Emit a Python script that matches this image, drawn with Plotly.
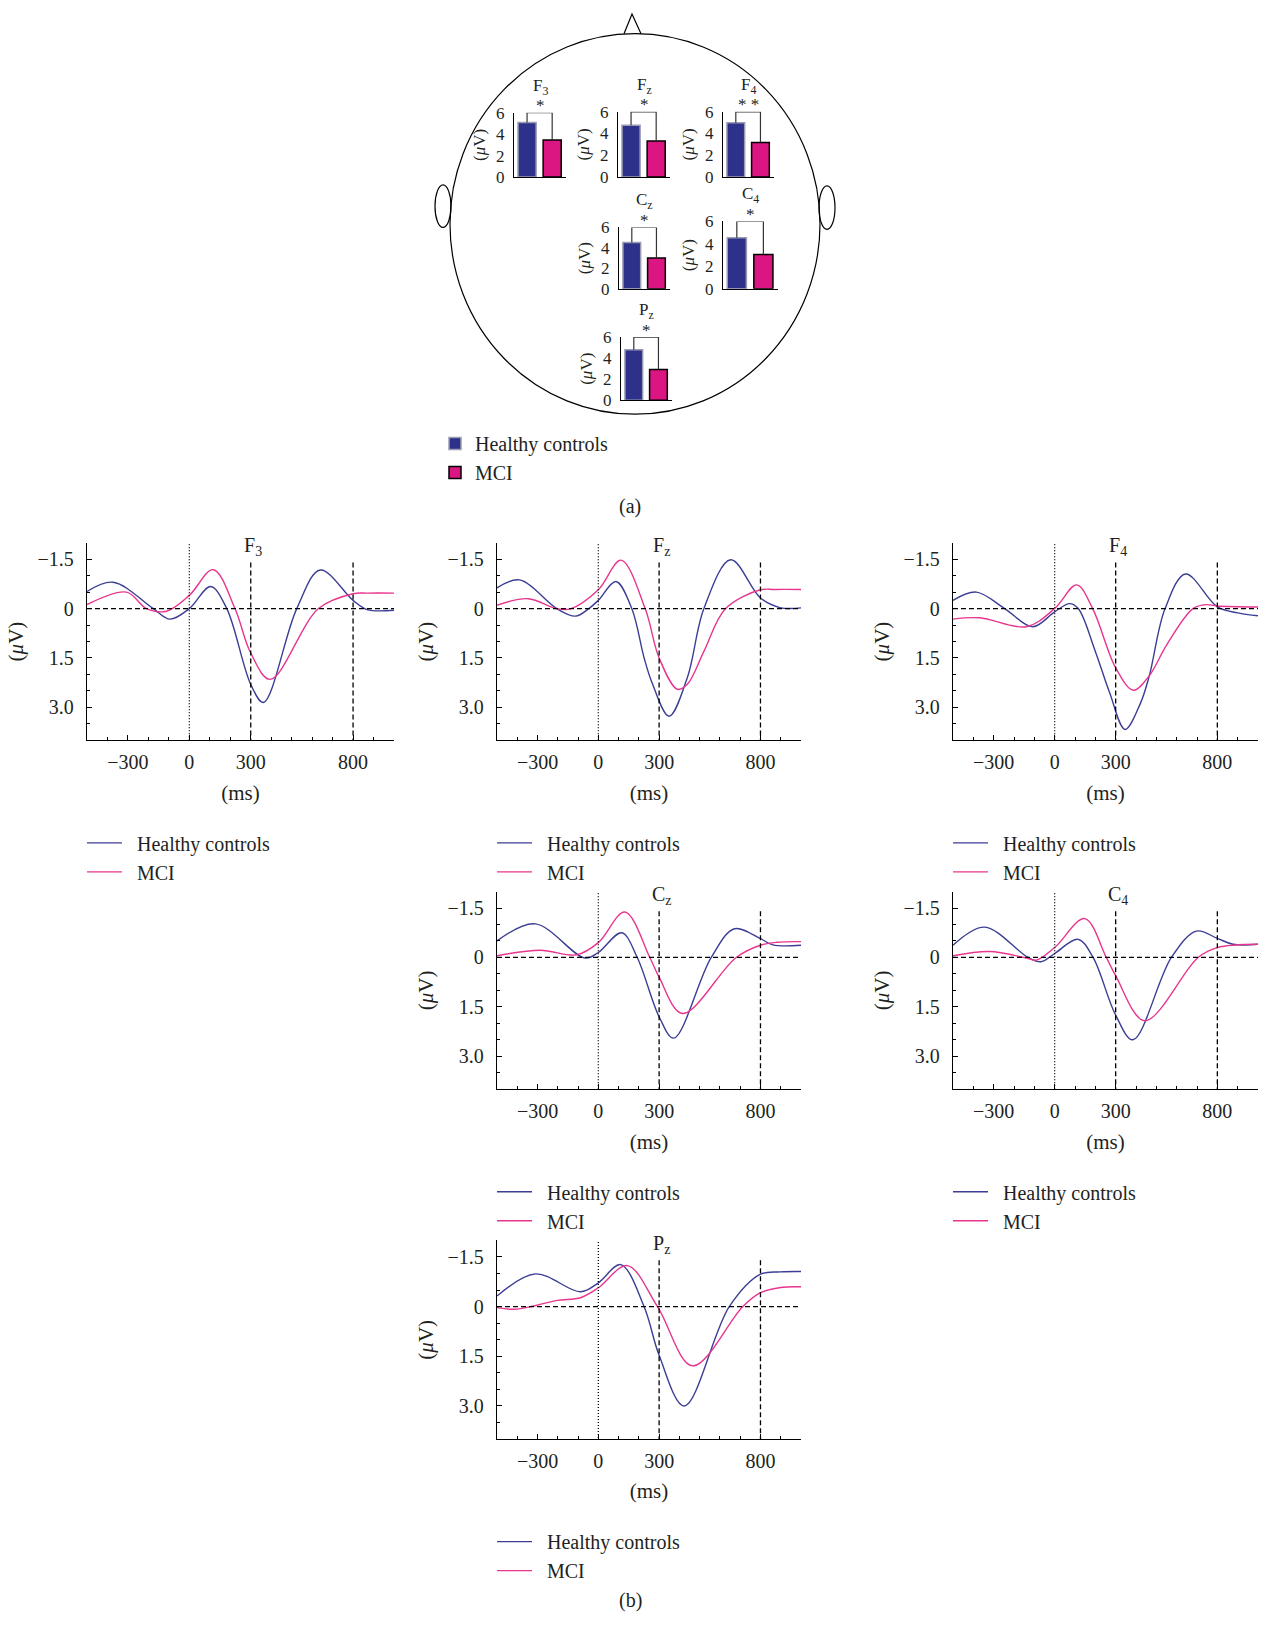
import plotly.graph_objects as go

W, H = 1269, 1625
FONT = "Liberation Serif"
INK = "#231f20"
HC_BAR, MCI_BAR = "#2e318a", "#db1682"
HC_LINE, MCI_LINE = "#3b3e94", "#e8358d"

ELECTRODES = ["F<sub>3</sub>", "F<sub>z</sub>", "F<sub>4</sub>",
              "C<sub>z</sub>", "C<sub>4</sub>", "P<sub>z</sub>"]
GROUPS = ["Healthy controls", "MCI"]
SIGNIF = ["*", "*", "* *", "*", "*", "*"]

# mean amplitude in the head-map insets (uV)
HC_AMP = [5.1, 4.77, 5.0, 4.52, 4.55, 4.8]
MCI_AMP = [3.45, 3.32, 3.17, 3.0, 3.05, 2.92]

# grand-average ERPs as (ms, uV) points
F3_HC = [(-500, -0.52), (-372, -0.80), (-176, 0.0), (-95, 0.32), (0, 0.0), (104, -0.67),
         (183, 0.0), (300, 2.3), (362, 2.85), (525, 0.0), (640, -1.17), (800, -0.25),
         (868, 0.03), (1000, 0.05)]
F3_MCI = [(-500, -0.12), (-307, -0.50), (-209, 0.0), (-111, 0.08), (0, -0.40), (117, -1.18),
          (223, 0.0), (300, 1.35), (395, 2.15), (631, 0.0), (800, -0.45), (870, -0.47),
          (1000, -0.47)]
FZ_HC = [(-500, -0.63), (-388, -0.87), (-205, 0.0), (-113, 0.23), (-47, 0.0), (0, -0.25),
         (87, -0.82), (165, 0.0), (226, 1.5), (265, 2.25), (349, 3.27), (439, 2.1),
         (521, 0.0), (653, -1.48), (800, -0.32), (895, -0.03), (1000, -0.02)]
FZ_MCI = [(-500, -0.10), (-347, -0.30), (-205, 0.0), (-138, 0.01), (0, -0.57), (112, -1.47),
          (231, 0.0), (300, 1.5), (390, 2.45), (439, 2.3), (521, 1.3), (628, 0.0),
          (800, -0.57), (870, -0.58), (1000, -0.58)]
F4_HC = [(-500, -0.25), (-385, -0.50), (-246, 0.0), (-107, 0.55), (0, 0.10), (74, -0.15),
         (116, 0.0), (200, 1.3), (270, 2.55), (346, 3.67), (420, 2.9), (465, 2.05),
         (543, 0.0), (644, -1.05), (800, -0.05), (900, 0.13), (1000, 0.22)]
F4_MCI = [(-500, 0.32), (-369, 0.28), (-139, 0.55), (0, 0.0), (108, -0.72), (187, 0.0),
          (300, 1.8), (387, 2.48), (464, 2.05), (551, 1.1), (680, 0.0),
          (745, -0.12), (800, -0.08), (1000, -0.05)]
CZ_HC = [(-500, -0.50), (-311, -1.02), (-66, 0.02), (0, -0.15), (115, -0.75), (192, 0.0),
         (300, 1.8), (372, 2.45), (557, 0.0), (672, -0.87), (800, -0.57), (861, -0.38),
         (1000, -0.37)]
CZ_MCI = [(-500, -0.05), (-287, -0.22), (-107, -0.08), (0, -0.45), (131, -1.38), (254, 0.0),
          (300, 0.6), (415, 1.7), (680, 0.0), (800, -0.37), (880, -0.46), (1000, -0.48)]
C4_HC = [(-500, -0.37), (-344, -0.92), (-131, 0.0), (-66, 0.13), (0, -0.12), (115, -0.55),
         (189, 0.0), (300, 1.75), (385, 2.5), (574, 0.0), (697, -0.80), (800, -0.58),
         (877, -0.40), (1000, -0.40)]
C4_MCI = [(-500, -0.05), (-320, -0.18), (-150, 0.0), (-90, 0.08), (0, -0.30), (148, -1.18),
          (254, 0.0), (300, 0.55), (443, 1.92), (705, 0.0), (800, -0.30), (1000, -0.40)]
PZ_HC = [(-500, -0.32), (-310, -0.99), (-88, -0.45), (0, -0.72), (110, -1.27), (226, 0.0),
         (300, 1.47), (424, 3.0), (646, 0.0), (800, -0.98), (900, -1.05), (1000, -1.06)]
PZ_MCI = [(-500, 0.03), (-416, 0.08), (-318, -0.02), (-203, -0.19), (-88, -0.27), (0, -0.57),
          (143, -1.24), (292, 0.0), (465, 1.79), (712, 0.0), (800, -0.42), (900, -0.58),
          (1000, -0.60)]
WAVES = [(F3_HC, F3_MCI), (FZ_HC, FZ_MCI), (F4_HC, F4_MCI),
         (CZ_HC, CZ_MCI), (C4_HC, C4_MCI), (PZ_HC, PZ_MCI)]

X_TICKS = [-300, 0, 300, 800]
Y_TICKS = [-1.5, 0, 1.5, 3.0]
Y_TICKTEXT = ["\u22121.5", "0", "1.5", "3.0"]
WINDOW_MS = [300, 800]


def px(x):
    return x / W


def py(y):
    return 1 - y / H


def ax_id(n):
    s = "" if n == 1 else str(n)
    return "x" + s, "y" + s, "xaxis" + s, "yaxis" + s


# pixel boxes: inset bars (x0, x1, y at 6 uV, y at 0 uV), ERP panels (x0, x1, top, bottom)
BAR_BOX = [(514, 566, 105, 170), (618, 670, 104, 170), (723, 774, 104, 170),
           (619, 670, 221, 283), (723, 778, 215, 283), (621, 672, 332, 396)]
COLS = [(87, 394), (497, 801), (953, 1258)]
ROWS = [(540, 740), (893, 1093), (1246, 1447)]
PANEL_AT = [(0, 0), (0, 1), (0, 2), (1, 1), (1, 2), (2, 1)]

fig = go.Figure()
layout = dict(
    width=W, height=H, margin=dict(l=0, r=0, t=0, b=0),
    paper_bgcolor="white", plot_bgcolor="rgba(0,0,0,0)",
    font=dict(family=FONT, color=INK, size=20),
    shapes=[], annotations=[],
)

# ---- (a) head map with bar insets ----
for i in range(6):
    xa, ya, xkey, ykey = ax_id(i + 1)
    x0, x1, ytop, ybot = BAR_BOX[i]
    fig.add_trace(go.Bar(
        x=[0], y=[HC_AMP[i]], width=0.72, name=GROUPS[0], xaxis=xa, yaxis=ya,
        marker=dict(color=HC_BAR, line=dict(color="#9a9cb4", width=1.5)),
        showlegend=(i == 0), legend="legend"))
    fig.add_trace(go.Bar(
        x=[1], y=[MCI_AMP[i]], width=0.72, name=GROUPS[1], xaxis=xa, yaxis=ya,
        marker=dict(color=MCI_BAR, line=dict(color="black", width=1.5)),
        showlegend=(i == 0), legend="legend"))
    # significance bracket
    fig.add_trace(go.Scatter(
        x=[0, 0, 1, 1], y=[HC_AMP[i], 6, 6, MCI_AMP[i]], mode="lines",
        line=dict(color="#333333", width=1.2), xaxis=xa, yaxis=ya,
        showlegend=False, hoverinfo="skip"))
    layout[xkey] = dict(
        domain=[px(x0), px(x1)], anchor=ya, range=[-0.52, 1.55],
        showline=True, linecolor="black", linewidth=1.3, showticklabels=False,
        ticks="", showgrid=False, zeroline=False, fixedrange=True)
    layout[ykey] = dict(
        domain=[py(ybot), py(ytop)], anchor=xa, range=[0, 6],
        showline=True, linecolor="black", linewidth=1.3, ticks="",
        tickvals=[0, 2, 4, 6], tickfont=dict(size=17), ticklabelstandoff=5,
        title=dict(text="(<i>\u03bc</i>V)", font=dict(size=17), standoff=5),
        showgrid=False, zeroline=False, fixedrange=True)
    layout["annotations"].append(dict(
        text=ELECTRODES[i], xref=f"{xa} domain", yref=f"{ya} domain", x=0.5, y=1,
        yshift=26, showarrow=False, font=dict(size=17), yanchor="middle"))
    layout["annotations"].append(dict(
        text=SIGNIF[i], xref=f"{xa} domain", yref=f"{ya} domain", x=0.5, y=1,
        yshift=7, showarrow=False, font=dict(size=17), yanchor="middle"))

layout["legend"] = dict(
    x=px(435), y=py(420), xanchor="left", yanchor="top", bgcolor="rgba(0,0,0,0)",
    font=dict(size=20), traceorder="normal", tracegroupgap=0)

head = dict(color="black", width=1.2)
layout["shapes"] += [
    dict(type="circle", xref="paper", yref="paper", x0=px(450), x1=px(820),
         y0=py(410), y1=py(25), line=head, layer="below"),
    dict(type="circle", xref="paper", yref="paper", x0=px(435), x1=px(451),
         y0=py(221), y1=py(178), line=head, layer="below"),
    dict(type="circle", xref="paper", yref="paper", x0=px(819), x1=px(835),
         y0=py(223), y1=py(179), line=head, layer="below"),
    dict(type="path", xref="paper", yref="paper", line=head, layer="below",
         path=f"M {px(624)},{py(25)} L {px(632)},{py(5)} L {px(641)},{py(25)}"),
]
layout["annotations"].append(dict(text="(a)", xref="paper", yref="paper", x=px(630),
                                  y=py(503), xanchor="center", yanchor="middle",
                                  showarrow=False, font=dict(size=20)))

# ---- (b) ERP waveforms ----
for i in range(6):
    xa, ya, xkey, ykey = ax_id(i + 7)
    r, c = PANEL_AT[i]
    x0, x1 = COLS[c]
    ytop, ybot = ROWS[r]
    leg = f"legend{i + 2}"
    for wave, name, color in zip(WAVES[i], GROUPS, [HC_LINE, MCI_LINE]):
        fig.add_trace(go.Scatter(
            x=[p[0] for p in wave], y=[p[1] for p in wave], mode="lines",
            name="\u00a0\u00a0" + name,
            line=dict(color=color, width=1.4, shape="spline", smoothing=1.0),
            xaxis=xa, yaxis=ya, legend=leg, showlegend=True))
    layout[xkey] = dict(
        domain=[px(x0), px(x1)], anchor=ya, range=[-500, 1000],
        showline=True, linecolor="black", linewidth=1.3, showgrid=False, zeroline=False,
        tickvals=X_TICKS, ticktext=[str(t).replace("-", "\u2212") for t in X_TICKS],
        ticks="inside", ticklen=5, tickcolor="black", ticklabelstandoff=4,
        minor=dict(ticks="inside", ticklen=3, tickcolor="black", tickmode="linear",
                   tick0=0, dtick=100, showgrid=False),
        title=dict(text="(ms)", font=dict(size=21), standoff=12))
    layout[ykey] = dict(
        domain=[py(ybot), py(ytop)], anchor=xa, range=[4, -2],
        showline=True, linecolor="black", linewidth=1.3, showgrid=False, zeroline=False,
        tickvals=Y_TICKS, ticktext=Y_TICKTEXT,
        ticks="inside", ticklen=5, tickcolor="black", ticklabelstandoff=8,
        minor=dict(ticks="inside", ticklen=3, tickcolor="black", tickmode="linear",
                   tick0=0, dtick=0.5, showgrid=False),
        title=dict(text="(<i>\u03bc</i>V)", font=dict(size=21), standoff=8))
    dash = dict(color="black", width=1.3, dash="5px,3px")
    layout["shapes"].append(dict(type="line", xref=xa, yref=ya, x0=-500, x1=1000,
                                 y0=0, y1=0, line=dash))
    layout["shapes"].append(dict(type="line", xref=xa, yref=ya, x0=0, x1=0, y0=-1.95,
                                 y1=4, line=dict(color="black", width=1.3, dash="1px,2px")))
    for ms in WINDOW_MS:
        layout["shapes"].append(dict(type="line", xref=xa, yref=ya, x0=ms, x1=ms,
                                     y0=-1.4, y1=4, line=dash))
    layout["annotations"].append(dict(
        text=ELECTRODES[i], xref=xa, yref=ya, x=312, y=-1.88, showarrow=False,
        font=dict(size=20), xanchor="center", yanchor="middle"))
    layout[leg] = dict(
        x=px(x0 - 5), y=py(ybot + 84), xanchor="left", yanchor="top",
        bgcolor="rgba(0,0,0,0)", font=dict(size=20), traceorder="normal",
        itemwidth=35, tracegroupgap=0)

layout["annotations"].append(dict(text="(b)", xref="paper", yref="paper", x=px(630),
                                  y=py(1610), xanchor="center", yanchor="middle",
                                  showarrow=False, font=dict(size=20)))

fig.update_layout(**layout)
# the page's default body margin would shift the whole figure by 8 px
fig.write_html("out.html", config={"displayModeBar": False},
               post_script="document.body.style.margin='0';")
